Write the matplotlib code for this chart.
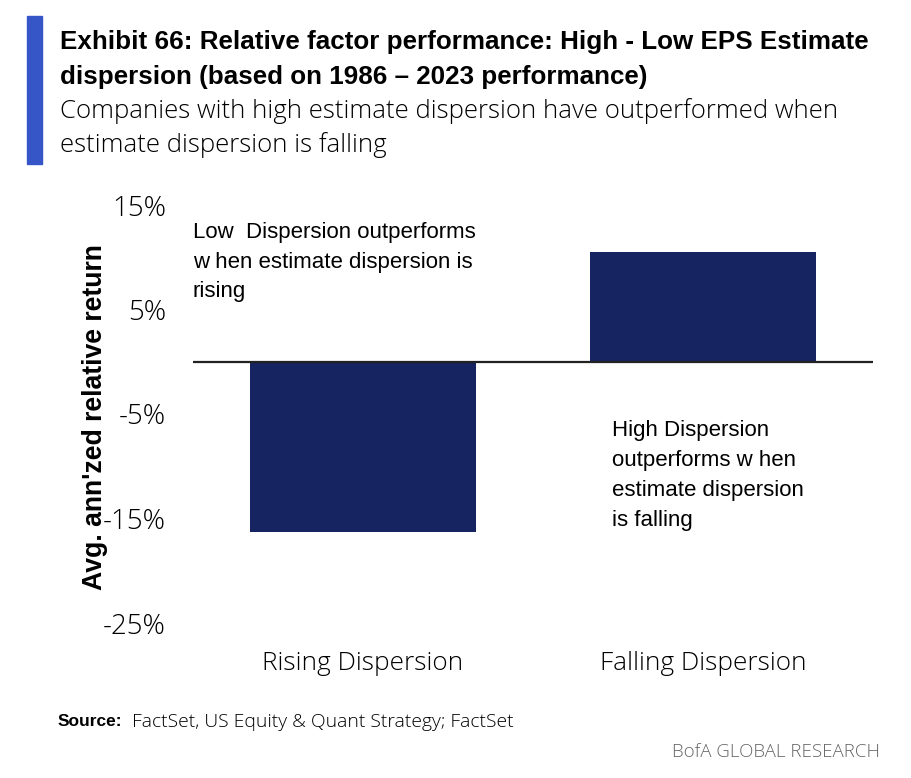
import matplotlib
matplotlib.use("Agg")
import matplotlib.pyplot as plt
from matplotlib.patches import Rectangle

categories = ["Rising Dispersion", "Falling Dispersion"]
returns = [-16.3, 10.5]
y_ticks = [15, 5, -5, -15, -25]
y_tick_labels = ["15%", "5%", "-5%", "-15%", "-25%"]

title_lines = ["Exhibit 66: Relative factor performance: High - Low EPS Estimate",
               "dispersion (based on 1986 \u2013 2023 performance)"]
subtitle_lines = ["Companies with high estimate dispersion have outperformed when",
                  "estimate dispersion is falling"]
note_low = "Low  Dispersion outperforms\nw hen estimate dispersion is\nrising"
note_high = "High Dispersion\noutperforms w hen\nestimate dispersion\nis falling"

W, H = 912, 778
fig = plt.figure(figsize=(W / 100, H / 100), dpi=100)

def fx(px):
    return px / W

def fy(py):
    return 1 - py / H

# blue accent bar at the left of the header
fig.patches.append(Rectangle((fx(27), fy(164)), 15 / W, 148 / H,
                             transform=fig.transFigure, color="#3656c8"))

for txt, base in zip(title_lines, [49, 84]):
    fig.text(fx(60), fy(base), txt, fontsize=18.7, fontweight="bold",
             family="Liberation Sans", va="baseline")
for txt, base in zip(subtitle_lines, [118, 152]):
    fig.text(fx(60), fy(base), txt, fontsize=18.5, family="Open Sans",
             fontweight="light", va="baseline")

ax = fig.add_axes([fx(193), fy(623), 680 / W, 418 / H])
ax.bar(range(len(categories)), returns, width=0.666, color="#162462")
ax.axhline(0, color="#222222", lw=1.6)
ax.set_xlim(-0.5, 1.5)
ax.set_ylim(-25, 15)
ax.set_yticks(y_ticks)
ax.set_yticklabels(y_tick_labels, family="Open Sans", fontweight="light", fontsize=20)
ax.set_xticks(range(len(categories)))
ax.set_xticklabels(categories, family="Open Sans", fontweight="light", fontsize=18.8)
ax.tick_params(length=0, axis="y", pad=19.5)
ax.tick_params(length=0, axis="x", pad=20)
for s in ax.spines.values():
    s.set_visible(False)
ax.set_ylabel("Avg. ann'zed relative return", family="Liberation Sans",
              fontweight="bold", fontsize=19.2)
ax.yaxis.set_label_coords(-0.125, 0.493)

ax.text(-0.5, 13.4, note_low, family="Liberation Sans", fontsize=16, va="top",
        linespacing=1.55)
ax.text(0.732, -5.6, note_high, family="Liberation Sans", fontsize=16, va="top",
        linespacing=1.55)

fig.text(fx(58), fy(722), "Source:", family="Liberation Sans", fontweight="bold",
         fontsize=12.5, va="center")
fig.text(fx(132), fy(722), "FactSet, US Equity & Quant Strategy; FactSet",
         family="Open Sans", fontweight="light", fontsize=13.9, va="center")
fig.text(fx(880), fy(752), "BofA GLOBAL RESEARCH", family="Open Sans",
         fontweight="light", fontsize=13.5, color="#666666", ha="right", va="center")

fig.savefig("out.png", dpi=100)
